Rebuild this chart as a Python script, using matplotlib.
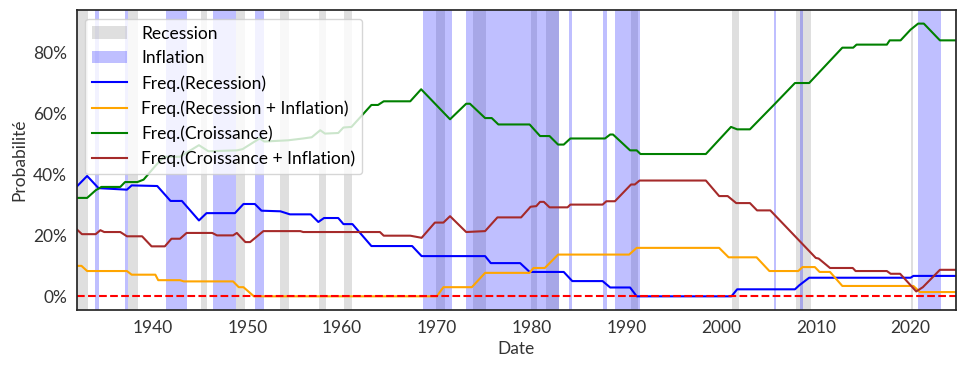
import numpy as np
import matplotlib
matplotlib.use("Agg")
import matplotlib.pyplot as plt
from matplotlib.ticker import PercentFormatter

plt.rcParams['font.family'] = ['Lato', 'DejaVu Sans']
plt.rcParams['font.size'] = 12.5

# recession periods (start, end) in decimal years
recessions = [(1929.6, 1933.2), (1937.45, 1938.45), (1945.1, 1945.8), (1948.85, 1949.8),
              (1953.5, 1954.4), (1957.6, 1958.3), (1960.2, 1961.1), (1969.9, 1970.9),
              (1973.85, 1975.2), (1979.95, 1980.55), (1981.5, 1982.85), (1990.5, 1991.2),
              (2001.15, 2001.85), (2007.9, 2009.45), (2020.05, 2020.3)]

# inflation periods (start, end)
inflations = [(1933.95, 1934.3), (1937.1, 1937.45), (1941.45, 1943.65), (1946.4, 1948.8),
              (1950.8, 1951.8), (1968.5, 1971.6), (1973.1, 1982.85), (1984.0, 1984.3),
              (1987.55, 1988.0), (1988.8, 1991.5), (2005.6, 2005.8), (2008.3, 2008.6),
              (2020.8, 2023.2)]

# Freq.(Recession)
rec_years = [1932.0, 1933.1, 1934.3, 1937.3, 1937.8, 1940.5, 1941.9, 1943.1, 1944.9, 1945.7,
             1948.7, 1949.6, 1950.8, 1951.5, 1953.5, 1954.5, 1956.7, 1957.5, 1958.1, 1959.6,
             1960.15, 1961.1, 1963.1, 1967.4, 1968.4, 1975.1, 1975.7, 1978.8, 1979.8, 1983.4,
             1984.3, 1987.5, 1988.3, 1990.4, 1991.1, 2001.1, 2001.7, 2007.8, 2008.25, 2009.3,
             2020.0, 2020.3, 2024.8]
rec_vals = [36.0, 39.5, 35.5, 35.0, 36.4, 36.2, 31.3, 31.3, 24.9, 27.3,
            27.3, 30.3, 30.3, 28.1, 27.9, 26.9, 26.9, 24.4, 25.7, 25.7,
            23.7, 23.7, 16.5, 16.5, 13.2, 13.2, 10.9, 10.9, 8.0, 8.0,
            5.0, 5.0, 2.9, 2.9, 0.0, 0.0, 2.3, 2.3, 3.6, 6.1,
            6.1, 6.7, 6.7]

# Freq.(Recession + Inflation)
rec_inf_years = [1932.0, 1932.5, 1933.1, 1937.3, 1937.8, 1940.3, 1940.6, 1942.9, 1943.3, 1948.5,
                 1949.1, 1949.6, 1950.7, 1970.0, 1970.7, 1973.7, 1975.1, 1979.8, 1980.2, 1981.4,
                 1982.8, 1990.3, 1991.1, 1999.8, 2000.8, 2003.75, 2005.1, 2008.15, 2008.6, 2009.9,
                 2010.4, 2011.5, 2012.8, 2020.3, 2021.0, 2024.8]
rec_inf_vals = [10.0, 10.0, 8.3, 8.3, 7.1, 7.1, 5.3, 5.3, 4.9, 4.9,
                3.0, 3.0, 0.0, 0.0, 3.0, 3.0, 7.7, 7.7, 9.3, 9.3,
                13.7, 13.7, 15.9, 15.9, 12.8, 12.8, 8.3, 8.3, 9.6, 9.6,
                8.0, 8.0, 3.4, 3.4, 1.4, 1.4]

# Freq.(Croissance)
cro_years = [1932.0, 1933.1, 1934.0, 1934.6, 1936.6, 1937.1, 1938.4, 1939.06, 1940.3, 1941.2,
             1942.9, 1944.9, 1945.9, 1948.9, 1949.5, 1951.3, 1951.8, 1954.3, 1955.9, 1956.8,
             1957.7, 1958.2, 1959.6, 1960.15, 1961.0, 1963.1, 1963.8, 1964.4, 1967.2, 1968.35,
             1971.4, 1973.1, 1973.5, 1975.1, 1975.8, 1976.5, 1979.8, 1980.9, 1981.9, 1982.8,
             1983.4, 1984.1, 1987.75, 1988.3, 1988.6, 1990.4, 1991.1, 1991.5, 1998.4, 2001.05,
             2001.7, 2003.05, 2005.6, 2007.8, 2009.3, 2012.8, 2013.95, 2014.3, 2017.5, 2017.8,
             2018.95, 2020.0, 2020.8, 2021.4, 2023.1, 2024.8]
cro_vals = [32.3, 32.3, 34.8, 35.9, 35.9, 37.5, 37.5, 38.3, 42.8, 45.8,
            45.8, 49.6, 47.6, 47.9, 48.3, 51.8, 50.8, 51.2, 51.8, 52.2,
            54.5, 53.4, 53.6, 55.4, 55.6, 62.8, 62.8, 64.0, 64.0, 67.95,
            58.1, 63.2, 63.2, 58.5, 58.5, 56.4, 56.4, 52.6, 52.6, 49.8,
            49.8, 51.8, 51.8, 53.1, 53.1, 47.9, 47.9, 46.7, 46.7, 55.6,
            54.8, 54.8, 62.9, 70.0, 70.0, 81.6, 81.6, 82.6, 82.6, 84.0,
            84.0, 87.5, 89.5, 89.5, 84.0, 84.0]

# Freq.(Croissance + Inflation)
cro_inf_years = [1932.0, 1932.55, 1934.0, 1934.5, 1934.9, 1936.6, 1937.3, 1938.9, 1939.9, 1941.3,
                 1942.0, 1942.9, 1943.6, 1946.3, 1946.8, 1948.5, 1948.9, 1949.8, 1950.3, 1951.7,
                 1955.6, 1955.9, 1964.0, 1964.4, 1967.2, 1968.4, 1969.8, 1970.7, 1971.4, 1973.1,
                 1975.1, 1976.4, 1978.9, 1979.9, 1980.5, 1980.9, 1981.3, 1981.9, 1983.8, 1984.1,
                 1987.5, 1987.9, 1988.8, 1990.5, 1990.9, 1991.4, 1998.4, 1999.8, 2000.7, 2001.6,
                 2003.05, 2003.8, 2005.2, 2005.6, 2010.0, 2010.3, 2011.5, 2013.9, 2014.2, 2017.5,
                 2017.9, 2018.9, 2020.6, 2021.3, 2023.1, 2024.8]
cro_inf_vals = [22.0, 20.4, 20.4, 21.7, 21.1, 21.1, 19.7, 19.7, 16.4, 16.4,
                18.9, 18.9, 20.8, 20.8, 20.0, 20.0, 20.8, 17.8, 17.8, 21.4,
                21.4, 21.1, 21.1, 19.9, 19.9, 19.2, 24.2, 24.2, 26.3, 21.1,
                21.4, 25.9, 25.9, 29.4, 29.6, 31.0, 31.0, 29.2, 29.2, 30.1,
                30.1, 31.2, 31.2, 36.7, 36.7, 38.0, 38.0, 32.9, 32.9, 30.6,
                30.6, 28.2, 28.2, 26.9, 12.6, 12.4, 9.3, 9.3, 8.3, 8.3,
                7.4, 7.4, 1.6, 3.0, 8.7, 8.7]

fig, ax = plt.subplots(figsize=(9.65, 3.69), dpi=100)
fig.subplots_adjust(left=0.0795, right=0.9907, bottom=0.160, top=0.973)

for i, (a, b) in enumerate(recessions):
    ax.axvspan(a, b, color='grey', alpha=0.25, lw=0, label='Recession' if i == 0 else None)
for i, (a, b) in enumerate(inflations):
    ax.axvspan(a, b, color='blue', alpha=0.25, lw=0, label='Inflation' if i == 0 else None)

ax.plot(rec_years, np.array(rec_vals) / 100, color='blue', lw=1.5, label='Freq.(Recession)')
ax.plot(rec_inf_years, np.array(rec_inf_vals) / 100, color='orange', lw=1.5,
        label='Freq.(Recession + Inflation)')
ax.plot(cro_years, np.array(cro_vals) / 100, color='green', lw=1.5, label='Freq.(Croissance)')
ax.plot(cro_inf_years, np.array(cro_inf_vals) / 100, color='brown', lw=1.5,
        label='Freq.(Croissance + Inflation)')
ax.axhline(0, color='red', ls='--', lw=1.5)

ax.set_xlim(1932.0, 2024.8)
ax.set_xticks(np.arange(1940, 2021, 10))
ax.yaxis.set_major_formatter(PercentFormatter(1.0, decimals=0))
ax.tick_params(length=0, pad=7, labelcolor='#333333')
for s in ax.spines.values():
    s.set_color('#262626')
    s.set_linewidth(1.25)

ax.set_xlabel('Date', color='#333333')
ax.set_ylabel('Probabilité', color='#333333')
ax.legend(loc='upper left')

fig.savefig('out.png', dpi=100)
